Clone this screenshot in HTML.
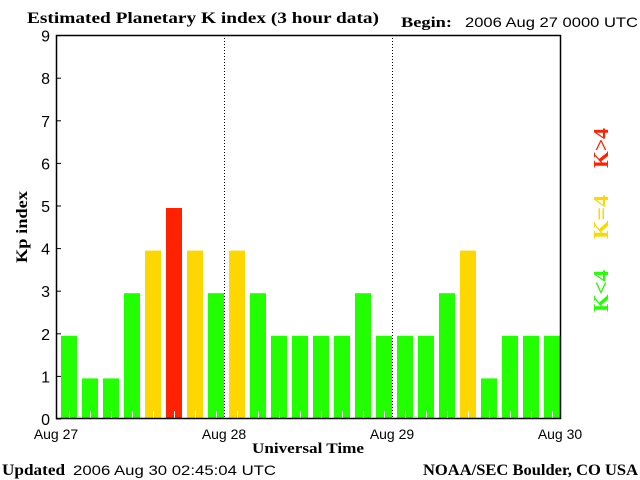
<!DOCTYPE html>
<html><head><meta charset="utf-8"><style>
body{margin:0;background:#fff}
svg{display:block}
text{font-family:"Liberation Sans",sans-serif}
.serif{font-family:"Liberation Serif",serif}
</style></head><body>
<svg id="chart" width="640" height="480" viewBox="0 0 640 480">
<text class="serif" x="27" y="23" font-size="16" font-weight="bold" textLength="352" lengthAdjust="spacingAndGlyphs">Estimated Planetary K index (3 hour data)</text>
<text class="serif" x="401" y="27" font-size="15" font-weight="bold" textLength="51" lengthAdjust="spacingAndGlyphs">Begin:</text>
<text x="465" y="27" font-size="14" textLength="173" lengthAdjust="spacingAndGlyphs">2006 Aug 27 0000 UTC</text>
<g id="bars"></g>
<g id="axes"></g>
<text class="serif" transform="translate(27,227) rotate(-90)" text-anchor="middle" font-size="16" font-weight="bold" textLength="72" lengthAdjust="spacingAndGlyphs">Kp index</text>
<text class="serif" x="308" y="453" text-anchor="middle" font-size="15" font-weight="bold" textLength="112" lengthAdjust="spacingAndGlyphs">Universal Time</text>
<text class="serif" x="2" y="475" font-size="16" font-weight="bold" textLength="63" lengthAdjust="spacingAndGlyphs">Updated</text>
<text x="73" y="475" font-size="14" textLength="203" lengthAdjust="spacingAndGlyphs">2006 Aug 30 02:45:04 UTC</text>
<text class="serif" x="638" y="475" text-anchor="end" font-size="16" font-weight="bold" textLength="215" lengthAdjust="spacingAndGlyphs">NOAA/SEC Boulder, CO USA</text>
<text class="serif" transform="translate(608,148) rotate(-90)" text-anchor="middle" font-size="21" font-weight="bold" fill="#ff2200" textLength="40" lengthAdjust="spacingAndGlyphs">K&gt;4</text>
<text class="serif" transform="translate(608,217) rotate(-90)" text-anchor="middle" font-size="21" font-weight="bold" fill="#ffd700" textLength="44" lengthAdjust="spacingAndGlyphs">K=4</text>
<text class="serif" transform="translate(608,291) rotate(-90)" text-anchor="middle" font-size="21" font-weight="bold" fill="#22ff00" textLength="42" lengthAdjust="spacingAndGlyphs">K&lt;4</text>
</svg>
<script>
const kpValues=[2,1,1,3,4,5,4,3,4,3,2,2,2,2,3,2,2,2,3,4,1,2,2,2];
const yTicks=[0,1,2,3,4,5,6,7,8,9];
const dayLabels=["Aug 27","Aug 28","Aug 29","Aug 30"];
const NS="http://www.w3.org/2000/svg";
const L=56,R=560,T=35,B=418;
const slot=(R-L)/kpValues.length;
function y(v){return 421-42.6*v;}
function x(i){return L+slot*i;}
function mk(tag,attrs,parent){const e=document.createElementNS(NS,tag);for(const k in attrs)e.setAttribute(k,attrs[k]);parent.appendChild(e);return e;}
const bars=document.getElementById('bars'),axes=document.getElementById('axes');
kpValues.forEach((v,i)=>{
  const col=v>4?"#ff2200":(v==4?"#ffd700":"#22ff00");
  const r=mk('rect',{x:x(i)+5,y:y(v),width:16,height:B-y(v),fill:col},bars);
  
  
  const t=mk('line',{x1:x(i)+13.5,x2:x(i)+13.5,y1:B-7,y2:B,stroke:"#fff","stroke-width":1},bars);
  
  
});
for(let d=1;d<dayLabels.length-1;d++){
  const xx=x(d*8)+0.5;
  const l=mk('line',{x1:xx,x2:xx,y1:T,y2:B,stroke:"#000","stroke-dasharray":"1,2"},axes);
  
  
}
const fr=mk('rect',{x:L+0.5,y:T+0.5,width:R-L,height:B-T,fill:"none",stroke:"#000","stroke-width":1.5},axes);


yTicks.forEach(v=>{
  const yy=y(v)-2;
  const tl=mk('line',{x1:L,x2:L+5,y1:yy,y2:yy,stroke:"#000"},axes);
  
  
  const t=mk('text',{x:L-6,y:yy+6,"text-anchor":"end","font-size":"16"},axes);
  t.textContent=v;
  
  
});
dayLabels.forEach((d,i)=>{
  const t=mk('text',{x:x(i*8),y:439,"text-anchor":"middle","font-size":"14"},axes);
  t.textContent=d;
  
  
});
</script>
</body></html>
